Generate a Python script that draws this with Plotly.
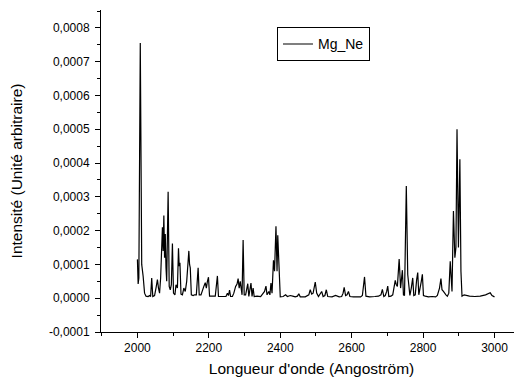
import plotly.graph_objects as go

# Wavelength (Angstrom) and intensity (arbitrary units)
wavelength = [
    2000, 2002, 2004, 2008, 2012, 2014, 2016, 2020, 2024, 2030, 2034, 2037, 2040, 2043, 2048,
    2052, 2056, 2059, 2062, 2065, 2068, 2070, 2072, 2074, 2076, 2078, 2080, 2082, 2086, 2089,
    2092, 2095, 2098, 2101, 2105, 2108, 2112, 2115, 2117, 2119, 2122, 2126, 2130, 2134, 2138,
    2141, 2144, 2146, 2148, 2151, 2156, 2160, 2165, 2170, 2173, 2178, 2182, 2186, 2190, 2193,
    2196, 2199, 2202, 2210, 2218, 2224, 2227, 2240, 2248, 2252, 2255, 2258, 2261, 2266, 2270,
    2275, 2279, 2282, 2285, 2288, 2291, 2293, 2296, 2299, 2303, 2306, 2309, 2312, 2315, 2318,
    2321, 2324, 2327, 2335, 2345, 2352, 2356, 2360, 2363, 2368, 2371, 2374, 2377, 2381, 2384,
    2388, 2391, 2393, 2396, 2400, 2408, 2415, 2420, 2428, 2435, 2442, 2448, 2452, 2456, 2470,
    2480, 2484, 2488, 2492, 2498, 2502, 2507, 2512, 2516, 2520, 2525, 2529, 2533, 2545, 2555,
    2565, 2572, 2576, 2579, 2583, 2587, 2591, 2595, 2605, 2615, 2625, 2630, 2636, 2640, 2650,
    2665, 2675, 2682, 2686, 2690, 2694, 2698, 2701, 2704, 2710, 2715, 2719, 2722, 2725, 2728,
    2733, 2737, 2742, 2745, 2748, 2753, 2757, 2760, 2763, 2767, 2771, 2774, 2778, 2782, 2785,
    2788, 2792, 2795, 2798, 2801, 2806, 2815, 2825, 2835, 2840, 2846, 2850, 2853, 2857, 2860,
    2864, 2868, 2872, 2876, 2879, 2881, 2885, 2889, 2892, 2895, 2899, 2903, 2906, 2909, 2915,
    2920, 2930, 2945, 2960, 2975, 2985, 2988, 2993, 3000,
]
intensity = [
    1.15e-4, 0.42e-4, 0.60e-4, 7.55e-4, 1.00e-4, 0.70e-4, 0.65e-4, 0.15e-4, 0.06e-4, 0.05e-4,
    0.08e-4, 0.05e-4, 0.60e-4, 0.05e-4, 0.08e-4, 0.30e-4, 0.55e-4, 0.30e-4, 0.15e-4, 0.60e-4,
    1.50e-4, 2.10e-4, 1.40e-4, 2.45e-4, 1.20e-4, 1.90e-4, 0.90e-4, 0.50e-4, 3.15e-4, 0.35e-4,
    0.25e-4, 0.40e-4, 1.62e-4, 0.15e-4, 0.10e-4, 0.40e-4, 0.30e-4, 1.48e-4, 0.95e-4, 1.05e-4,
    0.12e-4, 0.10e-4, 0.30e-4, 0.20e-4, 0.50e-4, 0.90e-4, 1.40e-4, 1.00e-4, 0.90e-4, 0.10e-4,
    0.08e-4, 0.10e-4, 0.10e-4, 0.90e-4, 0.10e-4, 0.10e-4, 0.20e-4, 0.35e-4, 0.46e-4, 0.30e-4,
    0.50e-4, 0.62e-4, 0.06e-4, 0.05e-4, 0.06e-4, 0.66e-4, 0.05e-4, 0.05e-4, 0.05e-4, 0.15e-4,
    0.08e-4, 0.24e-4, 0.05e-4, 0.05e-4, 0.15e-4, 0.35e-4, 0.42e-4, 0.58e-4, 0.30e-4, 0.50e-4,
    0.10e-4, 0.10e-4, 1.72e-4, 0.10e-4, 0.10e-4, 0.30e-4, 0.43e-4, 0.05e-4, 0.30e-4, 0.45e-4,
    0.05e-4, 0.30e-4, 0.05e-4, 0.06e-4, 0.05e-4, 0.15e-4, 0.20e-4, 0.36e-4, 0.10e-4, 0.20e-4,
    0.10e-4, 0.45e-4, 0.15e-4, 1.12e-4, 0.80e-4, 2.13e-4, 0.80e-4, 1.86e-4, 0.80e-4, 0.04e-4,
    0.05e-4, 0.10e-4, 0.05e-4, 0.08e-4, 0.06e-4, 0.04e-4, 0.06e-4, 0.13e-4, 0.04e-4, 0.04e-4,
    0.10e-4, 0.25e-4, 0.12e-4, 0.15e-4, 0.48e-4, 0.15e-4, 0.05e-4, 0.15e-4, 0.20e-4, 0.05e-4,
    0.08e-4, 0.25e-4, 0.05e-4, 0.04e-4, 0.08e-4, 0.04e-4, 0.05e-4, 0.15e-4, 0.32e-4, 0.08e-4,
    0.10e-4, 0.20e-4, 0.05e-4, 0.04e-4, 0.04e-4, 0.04e-4, 0.08e-4, 0.63e-4, 0.06e-4, 0.04e-4,
    0.05e-4, 0.06e-4, 0.10e-4, 0.26e-4, 0.05e-4, 0.08e-4, 0.20e-4, 0.36e-4, 0.05e-4, 0.06e-4,
    0.10e-4, 0.30e-4, 0.53e-4, 0.40e-4, 0.35e-4, 1.16e-4, 0.30e-4, 0.83e-4, 0.10e-4, 0.08e-4,
    3.32e-4, 0.70e-4, 0.35e-4, 0.08e-4, 0.30e-4, 0.60e-4, 0.08e-4, 0.10e-4, 0.55e-4, 0.76e-4,
    0.10e-4, 0.30e-4, 0.50e-4, 0.71e-4, 0.08e-4, 0.06e-4, 0.04e-4, 0.05e-4, 0.04e-4, 0.08e-4,
    0.30e-4, 0.58e-4, 0.25e-4, 0.20e-4, 0.15e-4, 0.10e-4, 0.06e-4, 0.15e-4, 1.09e-4, 0.20e-4,
    0.20e-4, 2.58e-4, 1.20e-4, 1.50e-4, 5.00e-4, 1.50e-4, 4.11e-4, 0.80e-4, 0.06e-4, 0.10e-4,
    0.08e-4, 0.06e-4, 0.05e-4, 0.06e-4, 0.10e-4, 0.15e-4, 0.16e-4, 0.08e-4, 0.04e-4,
]

series_name = "Mg_Ne"
x_title = "Longueur d'onde (Angoström)"
y_title = "Intensité (Unité arbitraire)"
x_tick_vals = [2000, 2200, 2400, 2600, 2800, 3000]
y_tick_vals = [-0.0001, 0.0, 0.0001, 0.0002, 0.0003, 0.0004, 0.0005, 0.0006, 0.0007, 0.0008]
y_tick_text = ["-0,0001", "0,0000", "0,0001", "0,0002", "0,0003", "0,0004",
               "0,0005", "0,0006", "0,0007", "0,0008"]

font_family = "Liberation Sans, Arial, sans-serif"

fig = go.Figure()
fig.add_trace(go.Scatter(
    x=wavelength, y=intensity, mode="lines", name=series_name,
    line=dict(color="black", width=1.2),
))

# The page body has an 8px default margin, so the figure is sized 8px smaller
fig.update_layout(
    width=514, height=372,
    margin=dict(l=93, r=0, t=2, b=48, autoexpand=False),
    paper_bgcolor="white", plot_bgcolor="white",
    font=dict(family=font_family, color="black", size=12),
    showlegend=True,
    legend=dict(
        x=0.418, y=0.946, xanchor="left", yanchor="top",
        bordercolor="black", borderwidth=1, bgcolor="white",
        font=dict(size=14, family=font_family),
        itemwidth=30, tracegroupgap=0,
        entrywidth=90, entrywidthmode="pixels",
    ),
)

fig.update_xaxes(
    range=[1898, 3077],
    tickvals=x_tick_vals,
    ticks="outside", ticklen=5, tickcolor="black", tickwidth=1,
    minor=dict(dtick=100, tick0=2000, ticks="outside", ticklen=3, tickcolor="black"),
    showline=True, linecolor="black", linewidth=1, mirror=False,
    showgrid=False, zeroline=False, automargin=False,
    tickfont=dict(size=12),
    title=dict(text=x_title, font=dict(size=15.5), standoff=8),
)
fig.update_yaxes(
    range=[-0.0001, 0.000853],
    tickvals=y_tick_vals, ticktext=y_tick_text,
    ticks="outside", ticklen=5, tickcolor="black", tickwidth=1,
    minor=dict(dtick=0.00005, tick0=0, ticks="outside", ticklen=3, tickcolor="black"),
    showline=True, linecolor="black", linewidth=1, mirror=False,
    showgrid=False, zeroline=False, automargin=False,
    tickfont=dict(size=12), ticklabelstandoff=3,
    title=dict(text=y_title, font=dict(size=15.5), standoff=24),
)

fig.write_html("out.html")
